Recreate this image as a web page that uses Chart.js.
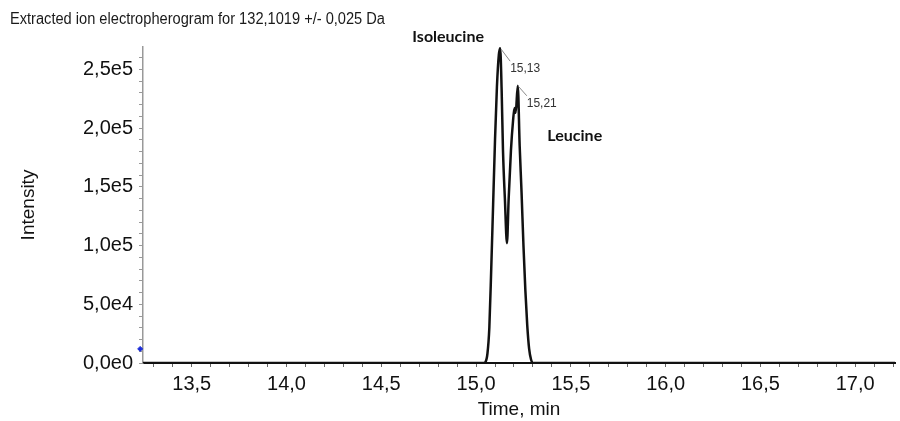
<!DOCTYPE html>
<html>
<head>
<meta charset="utf-8">
<script src="https://cdn.jsdelivr.net/npm/chart.js@4.4.0/dist/chart.umd.min.js"></script>
<style>
  html, body { margin: 0; padding: 0; background: #fff; }
  #wrap { width: 900px; height: 421px; position: relative; }
</style>
</head>
<body>
<div id="wrap"><canvas id="eph" width="900" height="421"></canvas></div>
<script>
const titleText = 'Extracted ion electropherogram for 132,1019 +/- 0,025 Da';

// time (min) and intensity of the extracted ion trace
const times = [13.243, 15.04, 15.05, 15.06, 15.07, 15.08, 15.09, 15.10, 15.11, 15.12, 15.127,
  15.135, 15.142, 15.152, 15.163, 15.172, 15.184, 15.195, 15.203, 15.209, 15.22,
  15.23, 15.24, 15.25, 15.26, 15.27, 15.28, 15.29, 15.30, 17.21];
const intensity = [0, 0, 1000, 8000, 30000, 80000, 135000, 190000, 235000, 262000, 268000,
  232000, 181000, 140000, 102000, 140000, 181000, 206000, 217000, 213000, 236000,
  185000, 145000, 100000, 62000, 32000, 12000, 3000, 0, 0];

const peakTimes = [15.127, 15.22];
const peakIntensity = [268000, 236000];
const peakLabels = ['15,13', '15,21'];
const compoundNames = ['Isoleucine', 'Leucine'];

const markerPoint = [{ x: 13.228, y: 12000 }];

const xRange = [13.243, 17.21];
const yRange = [0, 269000];
const xMajor = [13.5, 14.0, 14.5, 15.0, 15.5, 16.0, 16.5, 17.0];
const xMajorLabels = ['13,5', '14,0', '14,5', '15,0', '15,5', '16,0', '16,5', '17,0'];
const yMajor = [0, 50000, 100000, 150000, 200000, 250000];
const yMajorLabels = ['0,0e0', '5,0e4', '1,0e5', '1,5e5', '2,0e5', '2,5e5'];
const xMinorStep = 0.1;
const yMinorStep = 10000;

const labelFont = '"Liberation Sans", Arial, sans-serif';

function minorTicks(min, max, step) {
  const out = [];
  const start = Math.ceil(min / step - 1e-9);
  for (let k = start; k * step <= max + 1e-9; k++) out.push({ value: +(k * step).toFixed(6) });
  return out;
}

function labelFor(value, majors, labels) {
  for (let i = 0; i < majors.length; i++) {
    if (Math.abs(value - majors[i]) < 1e-6 * Math.max(1, Math.abs(majors[i]))) return labels[i];
  }
  return '';
}

const overlay = {
  id: 'overlay',
  afterDatasetsDraw(chart) {
    const ctx = chart.ctx;
    const xs = chart.scales.x, ys = chart.scales.y;
    ctx.save();

    // title, squeezed to the width it has in the original
    ctx.font = '16px ' + labelFont;
    ctx.fillStyle = '#1a1a1a';
    ctx.textBaseline = 'middle';
    ctx.textAlign = 'left';
    const w = ctx.measureText(titleText).width;
    ctx.save();
    ctx.translate(10, 20);
    ctx.scale(375 / w, 1);
    ctx.fillText(titleText, 0, 0);
    ctx.restore();

    // peak annotations
    const offsets = [[10, 13], [9, 10]];
    const nameOffsets = [[-52, -11], [57, 50]];
    peakTimes.forEach((t, i) => {
      const px = xs.getPixelForValue(t);
      const py = ys.getPixelForValue(peakIntensity[i]);
      ctx.strokeStyle = '#8a8a8a';
      ctx.lineWidth = 1;
      ctx.beginPath();
      ctx.moveTo(px + 1, py + 1);
      ctx.lineTo(px + offsets[i][0], py + offsets[i][1]);
      ctx.stroke();
      ctx.fillStyle = '#333';
      ctx.font = '12px ' + labelFont;
      ctx.textAlign = 'left';
      ctx.fillText(peakLabels[i], px + offsets[i][0], py + offsets[i][1] + 8);
      ctx.fillStyle = '#111';
      ctx.font = 'bold 16px Lato, "Noto Sans", sans-serif';
      ctx.textAlign = 'center';
      ctx.fillText(compoundNames[i], px + nameOffsets[i][0], py + nameOffsets[i][1]);
    });
    ctx.restore();
  }
};

new Chart(document.getElementById('eph'), {
  type: 'scatter',
  data: {
    datasets: [
      {
        data: times.map((t, i) => ({ x: t, y: intensity[i] })),
        showLine: true,
        borderColor: '#111',
        borderWidth: 2.5,
        pointRadius: 0,
        cubicInterpolationMode: 'monotone'
      },
      {
        data: markerPoint,
        pointStyle: 'rectRot',
        pointRadius: 2.5,
        backgroundColor: '#1a2bd8',
        borderColor: '#1a2bd8',
        clip: false
      }
    ]
  },
  plugins: [overlay],
  options: {
    responsive: false,
    animation: false,
    layout: { padding: { left: 0, top: 47, right: 2, bottom: 0 } },
    plugins: { legend: { display: false }, tooltip: { enabled: false } },
    scales: {
      x: {
        type: 'linear',
        min: xRange[0],
        max: xRange[1],
        afterBuildTicks: s => { s.ticks = minorTicks(xRange[0], xRange[1], xMinorStep); },
        afterFit: s => { s.height = 58; },
        border: { color: '#111', width: 2 },
        grid: { drawOnChartArea: false, tickLength: 4, tickColor: '#666' },
        ticks: {
          autoSkip: false,
          maxRotation: 0,
          padding: 5,
          color: '#111',
          font: { family: labelFont, size: 20 },
          callback: v => labelFor(v, xMajor, xMajorLabels)
        },
        title: { display: true, text: 'Time, min', color: '#111', padding: { top: 0, bottom: 0 },
          font: { family: labelFont, size: 19 } }
      },
      y: {
        min: yRange[0],
        max: yRange[1],
        afterBuildTicks: s => { s.ticks = minorTicks(yRange[0], yRange[1], yMinorStep); },
        afterFit: s => { s.width = 143; },
        border: { color: '#999', width: 1.5 },
        grid: { drawOnChartArea: false, tickLength: 4, tickColor: '#999' },
        ticks: {
          autoSkip: false,
          padding: 6,
          color: '#111',
          font: { family: labelFont, size: 20 },
          callback: v => labelFor(v, yMajor, yMajorLabels)
        },
        title: { display: true, text: 'Intensity', color: '#111', padding: { top: 17, bottom: 0 },
          font: { family: labelFont, size: 19 } }
      }
    }
  }
});
</script>
</body>
</html>
